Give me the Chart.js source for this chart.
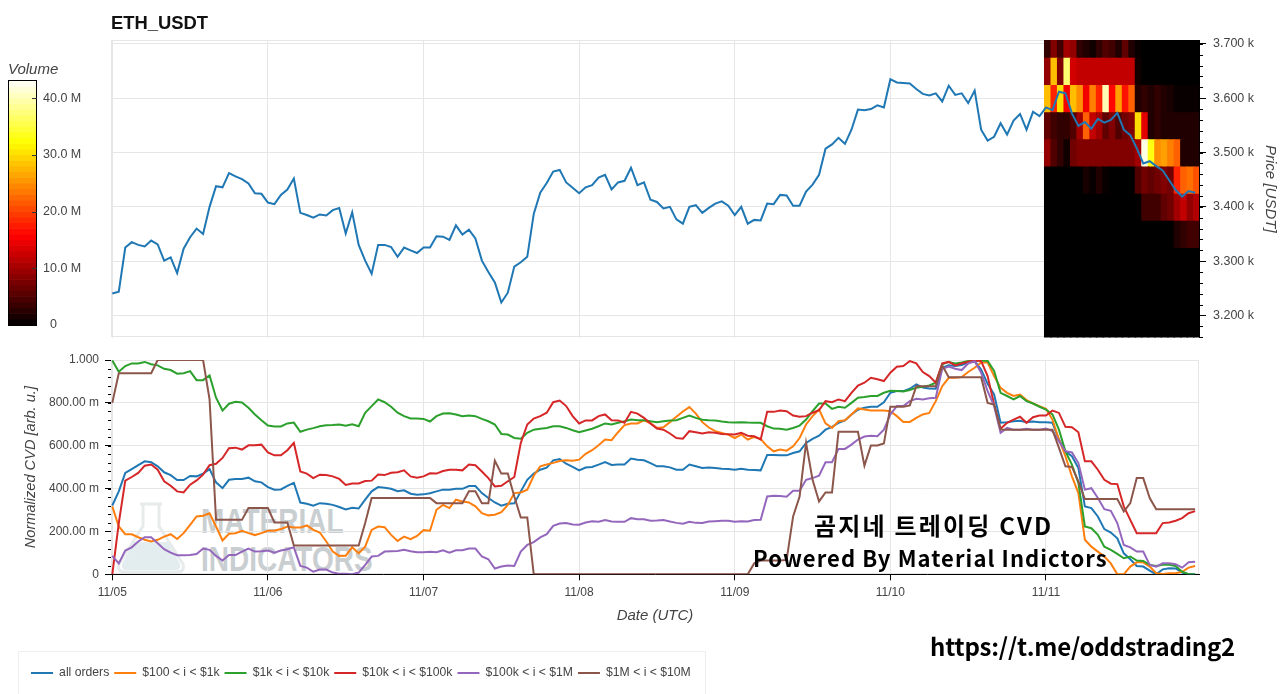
<!DOCTYPE html>
<html><head><meta charset="utf-8">
<script src="https://cdn.jsdelivr.net/npm/chart.js@4/dist/chart.umd.js"></script>
<style>
html,body{margin:0;padding:0;background:#fff;width:1280px;height:694px;overflow:hidden}
canvas{position:absolute;left:0;z-index:1}
.t{position:absolute;white-space:nowrap;z-index:2;color:#000;font-family:"Noto Sans CJK KR","Noto Sans",sans-serif;font-weight:700}
.w{position:absolute;white-space:nowrap;z-index:0;color:#c9ced1;font-family:"Liberation Sans",sans-serif;font-weight:700;font-size:28px;line-height:30px;transform:scale(1,1.25);transform-origin:left top}
#legendBox{position:absolute;left:18px;top:651px;width:688px;height:60px;border:1px solid #eee;box-sizing:border-box;z-index:0}
</style></head><body>
<svg style="position:absolute;left:114px;top:500px;z-index:0" width="80" height="76" viewBox="0 0 80 76">
<path d="M26 4H48M29 4V26L5 64Q3 72 11 72H63Q71 72 69 64L45 26V4" fill="none" stroke="#e7ebec" stroke-width="3"/>
<path d="M20 42H54L66 64Q67 70 62 70H12Q7 70 8 64Z" fill="#e3edf0"/></svg>
<div class="w" style="left:201px;top:503px">MATERIAL</div>
<div class="w" style="left:201px;top:541px">INDICATORS</div>
<div id="legendBox"></div>
<canvas id="priceChart" width="1280" height="352" style="top:0"></canvas>
<canvas id="cvdChart" width="1280" height="349" style="top:345px"></canvas>
<canvas id="barChart" width="110" height="280" style="top:60px"></canvas>
<div class="t" style="left:814px;top:507px;font-size:24px;letter-spacing:2.2px;line-height:36px">곰지네 트레이딩 CVD</div>
<div class="t" style="left:753px;top:540px;font-size:22px;letter-spacing:1.08px;line-height:34px">Powered By Material Indictors</div>
<div class="t" style="left:930px;top:628px;font-size:24px;letter-spacing:-.2px;line-height:36px">https://t.me/oddstrading2</div>
<script>
const dayLabels=['11/05','11/06','11/07','11/08','11/09','11/10','11/11'];
const dayHours=[0,24,48,72,96,120,144];
const priceTickLabels=['3.200 k','3.300 k','3.400 k','3.500 k','3.600 k','3.700 k'];
const cvdTickLabels=['0','200.00 m','400.00 m','600.00 m','800.00 m','1.000'];
const volumeTickLabels=['  0','10.0 M','20.0 M','30.0 M','40.0 M'];
const seriesNames=['all orders','$100 < i < $1k','$1k < i < $10k','$10k < i < $100k','$100k < i < $1M','$1M < i < $10M'];
const price=[3240.5,3244,3325,3335,3330,3327,3338,3331,3301,3307,3278,3323,3344,3360,3350,3400,3438,3436,3462,3456,3451,3443,3425,3424,
3408,3405,3422,3432,3452,3389,3385,3380,3386,3384,3394,3398,3351,3390,3330,3301,3277,3330,3330,3326,3308,3325,3320,3315,
3325,3325,3346,3345,3339,3366,3349,3358,3342,3301,3280,3261,3224,3242,3290,3298,3308,3387,3426,3444,3465,3468,3445,3435,
3425,3436,3440,3454,3459,3432,3445,3448,3472,3440,3445,3413,3409,3397,3400,3377,3369,3400,3403,3389,3398,3406,3410,3402,
3385,3400,3369,3376,3375,3406,3405,3422,3421,3402,3402,3428,3441,3459,3507,3515,3527,3516,3542,3579,3578,3580,3587,3583,
3635,3629,3628,3627,3617,3608,3605,3609,3594,3623,3606,3609,3591,3614,3542,3522,3529,3554,3533,3559,3571,3542,3575,3567,
3583,3578,3612,3609,3572,3549,3556,3544,3562,3555,3560,3573,3542,3532,3508,3480,3484,3475,3467,3449,3431,3419,3429,3426];
const allOrders=[.321,.387,.473,.491,.509,.527,.523,.504,.476,.463,.440,.440,.459,.457,.470,.491,.429,.402,.441,.445,.445,.451,.434,.429,
.407,.395,.396,.413,.427,.335,.329,.320,.332,.329,.324,.314,.303,.310,.307,.348,.387,.407,.404,.399,.388,.392,.376,.371,
.373,.378,.387,.395,.395,.399,.399,.412,.412,.379,.356,.335,.320,.329,.331,.387,.441,.470,.488,.498,.532,.538,.516,.501,
.485,.498,.501,.512,.524,.510,.512,.512,.540,.535,.532,.519,.504,.504,.499,.488,.488,.512,.504,.496,.498,.496,.493,.491,
.488,.493,.488,.487,.485,.557,.557,.555,.555,.566,.574,.613,.632,.647,.675,.688,.707,.718,.746,.768,.777,.782,.782,.803,
.847,.855,.855,.866,.886,.872,.867,.866,.964,.975,.972,.977,.988,.995,.956,.889,.839,.707,.710,.714,.716,.710,.713,.710,
.710,.707,.629,.574,.551,.496,.317,.309,.270,.211,.195,.168,.098,.070,.039,.036,.017,0,.023,.028,.027,.008,0,0];
const orders100to1k=[.317,.223,.187,.187,.173,.161,.153,.161,.176,.187,.165,.192,.231,.270,.273,.285,.223,.158,.189,.192,.203,.192,.183,.192,
.203,.203,.211,.223,.218,.218,.228,.207,.195,.153,.106,.086,.087,.126,.098,.129,.207,.223,.220,.184,.156,.176,.164,.179,
.206,.203,.301,.324,.309,.348,.340,.335,.317,.285,.275,.278,.290,.324,.379,.382,.395,.460,.504,.512,.520,.529,.532,.530,
.535,.562,.579,.602,.629,.626,.663,.696,.704,.704,.718,.705,.683,.686,.710,.735,.760,.780,.750,.710,.685,.668,.660,.652,
.636,.652,.629,.641,.632,.597,.574,.582,.577,.597,.636,.699,.738,.769,.704,.683,.714,.719,.746,.774,.769,.764,.764,.764,
.761,.738,.711,.711,.730,.746,.753,.808,.878,.917,.917,.920,.944,.964,.988,.988,.925,.870,.847,.832,.839,.813,.797,.785,
.772,.722,.629,.551,.457,.379,.161,.129,.106,.083,.051,0,0,.036,.056,.056,.036,.005,.002,.005,.005,.012,.031,.039];
const orders1kto10k=[.998,.945,.972,.984,.984,.991,.980,.975,.959,.953,.936,.938,.948,.906,.906,.928,.824,.764,.796,.805,.802,.777,.746,.719,
.694,.690,.690,.704,.708,.665,.675,.682,.691,.696,.697,.699,.693,.700,.691,.754,.785,.816,.803,.782,.754,.738,.727,.727,
.725,.713,.738,.750,.752,.746,.738,.741,.738,.725,.714,.699,.655,.652,.636,.633,.660,.675,.679,.683,.691,.691,.683,.672,
.663,.671,.679,.691,.704,.699,.707,.714,.722,.719,.719,.714,.710,.714,.718,.719,.730,.741,.730,.721,.719,.718,.713,.710,
.708,.710,.708,.707,.707,.691,.680,.679,.675,.683,.694,.722,.761,.797,.797,.772,.782,.777,.800,.824,.827,.832,.832,.847,
.856,.855,.853,.860,.871,.875,.881,.894,.980,.991,.984,.988,.995,.998,.998,.995,.949,.847,.832,.816,.832,.808,.797,.782,
.769,.746,.675,.574,.512,.426,.223,.215,.184,.129,.114,.095,.075,.083,.064,.062,.044,.039,.044,.044,.039,.012,0,0];
const orders10kto100k=[0,.239,.437,.454,.473,.507,.512,.488,.434,.413,.387,.382,.418,.438,.465,.509,.516,.543,.588,.591,.582,.602,.602,.605,
.569,.555,.555,.579,.613,.480,.470,.449,.465,.463,.457,.445,.417,.424,.424,.435,.437,.466,.463,.474,.476,.485,.457,.451,
.457,.471,.470,.482,.488,.488,.485,.512,.509,.480,.449,.410,.413,.434,.454,.613,.699,.727,.738,.754,.803,.811,.785,.738,
.704,.718,.718,.738,.746,.719,.718,.707,.758,.750,.730,.704,.680,.675,.657,.636,.633,.668,.663,.657,.663,.660,.655,.654,
.652,.660,.647,.644,.629,.758,.758,.764,.761,.741,.735,.738,.754,.766,.808,.803,.816,.808,.847,.881,.894,.917,.910,.902,
.941,.969,.972,.995,.984,.944,.925,.894,.984,.991,.975,.984,.992,.998,.995,.925,.792,.679,.707,.722,.735,.707,.733,.741,
.741,.764,.753,.688,.686,.663,.527,.527,.488,.441,.423,.421,.317,.254,.192,.192,.192,.192,.239,.242,.250,.262,.285,.295];
const orders100kto1M=[.086,.051,.111,.126,.153,.173,.173,.145,.117,.101,.089,.089,.090,.095,.120,.114,.086,.064,.090,.090,.106,.120,.106,.108,
.111,.101,.111,.117,.126,.039,.031,.012,.022,.022,.008,.003,.002,0,.008,.044,.083,.086,.106,.108,.109,.115,.108,.103,
.103,.105,.103,.112,.101,.112,.112,.120,.120,.083,.070,.027,.036,.041,.039,.106,.137,.150,.172,.187,.226,.237,.239,.232,
.231,.242,.248,.245,.253,.246,.245,.245,.262,.257,.257,.250,.251,.253,.246,.240,.236,.245,.240,.239,.246,.248,.250,.250,
.245,.248,.246,.253,.254,.363,.367,.365,.362,.390,.390,.441,.449,.460,.523,.523,.585,.585,.605,.629,.643,.647,.644,.675,
.746,.785,.785,.808,.819,.816,.821,.824,.959,.969,.959,.953,.984,.994,.941,.855,.785,.660,.683,.675,.675,.679,.675,.675,
.680,.668,.621,.574,.569,.519,.395,.402,.356,.304,.296,.239,.137,.126,.106,.106,.044,.036,.051,.051,.047,.031,.056,.058];
const orders1Mto10M=[.800,.938,.938,.938,.938,.938,.938,1,1,1,1,1,1,1,1,.816,.254,.254,.254,.254,.254,.309,.309,.309,
.309,.242,.242,.242,.134,.134,.134,.134,.134,.134,.134,.134,.134,.134,.134,.239,.356,.356,.356,.356,.356,.356,.356,.356,
.356,.356,.332,.332,.332,.332,.332,.387,.387,.332,.332,.530,.470,.470,.363,.265,.265,0,0,0,0,0,0,0,
0,0,0,0,0,0,0,0,0,0,0,0,0,0,0,0,0,0,0,0,0,0,0,0,
0,0,0,.051,.064,.064,.064,.064,.067,.270,.363,.613,.441,.340,.382,.382,.665,.665,.665,.665,.507,.601,.601,.610,
.782,.782,.782,.788,.878,.878,.878,.878,.975,.920,.920,.920,.920,.920,.920,.800,.792,.675,.674,.674,.674,.674,.674,.674,
.674,.674,.590,.504,.501,.434,.351,.351,.351,.351,.351,.351,.293,.332,.449,.449,.356,.304,.304,.304,.304,.304,.304,.304];
const heatHours=[144.3,145.3,146.3,147.3,148.3,149.3,150.3,151.3,152.3,153.3,154.3,155.3,156.3,157.3,158.3,159.3,160.3,161.3,162.3,163.3,164.3,165.3,166.3,167.3];
const heatBinFloors=[3123,3173,3223,3273,3323,3373,3423,3473,3523,3573,3623,3673];
const vol3123=[0,0,0,0,0,0,0,0,0,0,0,0,0,0,0,0,0,0,0,0,0,0,0,0];
const vol3173=[0,0,0,0,0,0,0,0,0,0,0,0,0,0,0,0,0,0,0,0,0,0,0,0];
const vol3223=[0,0,0,0,0,0,0,0,0,0,0,0,0,0,0,0,0,0,0,0,0,0,0,0];
const vol3273=[0,0,0,0,0,0,0,0,0,0,0,0,0,0,0,0,0,0,0,0,0,0,0,0];
const vol3323=[0,0,0,0,0,0,0,0,0,0,0,0,0,0,0,0,0,0,0,0,2,3,4,4];
const vol3373=[0,0,0,0,0,0,0,0,0,0,0,0,0,0,0,4,4,4,6,7,10,12,9,11];
const vol3423=[0,0,0,0,0,0,1.5,.5,2,.5,0,0,0,0,5,7,6,7,8,7,18,22,23,21];
const vol3473=[9,5,3,1,7,8,8,8,8,8,8,8,8,8,10,42,33,25,26,24,22,2,2,2];
const vol3523=[6,4,3,3,5,10,22,12,10,6,8,5,7,8,30,14,2,3,2,2,2,2,2,2];
const vol3573=[28,18,30,15,28,25,15,24,18,40,16,26,17,22,2,3,2,3,2,1.5,.5,.5,.5,.5];
const vol3623=[9,28,8,37,13,12,12,12,12,12,12,12,12,12,1,0,0,0,0,0,0,0,0,0];
const vol3673=[3,8,4,10,9,3,2,1,3,5,4,2,6,2,.5,0,0,0,0,0,0,0,0,0];
const colorbarLevels=[0,1,2,3,4,5,6,7,8,9,10,11,12,13,14,15,16,17,18,19,20,21,22,23,24,25,26,27,28,29,30,31,32,33,34,35,36,37,38,39,40,41,42,43];

const lineColors=['#1f77b4','#ff7f0e','#2ca02c','#d62728','#9467bd','#8c564b'];
const volMax=43.2;
const FONT='"Liberation Sans",Arial,sans-serif';
const TICK='#444', GRID='#e6e6e6';
function hot(v){const t=v/volMax,c=x=>Math.max(0,Math.min(1,x));
 return `rgb(${Math.round(255*c(t/.365))},${Math.round(255*c((t-.365)/.381))},${Math.round(255*c((t-.746)/.254))})`;}
const heatRows=[vol3123,vol3173,vol3223,vol3273,vol3323,vol3373,vol3423,vol3473,vol3523,vol3573,vol3623,vol3673];
const frame=(color,hook)=>({id:'frame',[hook](c){const a=c.chartArea,x=c.ctx;x.save();x.strokeStyle=color;x.lineWidth=1;
 x.strokeRect(Math.round(a.left)+.5,Math.round(a.top)+.5,Math.round(a.right-a.left)-1,Math.round(a.bottom-a.top)-1);x.restore();}});
const minorTicks=(step,len,dir)=>({id:'minorTicks',afterDraw(c){const s=c.scales.y,x=c.ctx,edge=dir>0?c.chartArea.right:c.chartArea.left;
 x.save();x.strokeStyle='#000';x.lineWidth=1;x.beginPath();
 for(let v=Math.ceil(s.min/step)*step;v<=s.max;v+=step){const p=Math.round(s.getPixelForValue(v))+.5;x.moveTo(edge,p);x.lineTo(edge+dir*len,p);}
 x.stroke();x.restore();}});

new Chart(document.getElementById('priceChart'),{type:'bar',
 data:{datasets:[
  {type:'line',order:0,data:price.map((y,x)=>({x,y})),borderColor:lineColors[0],backgroundColor:lineColors[0],borderWidth:2,pointRadius:0,tension:0},
  ...heatRows.map((row,r)=>({type:'bar',order:1,grouped:false,barPercentage:1,categoryPercentage:1,borderWidth:0,inflateAmount:.7,
    data:row.map((v,j)=>({x:heatHours[j],y:[heatBinFloors[r],heatBinFloors[r]+50]})),backgroundColor:row.map(hot)}))
 ]},
 options:{responsive:false,animation:false,layout:{padding:{left:111,top:0,bottom:2,right:0}},
  plugins:{legend:{display:false},tooltip:{enabled:false},
   title:{display:true,text:'ETH_USDT',align:'start',color:'#111',font:{family:FONT,size:18.4,weight:'bold'},padding:{top:13,bottom:5}}},
  scales:{
   x:{type:'linear',offset:false,min:-.2,max:167.6,grid:{offset:false,color:GRID,drawTicks:false},border:{display:false},
      afterBuildTicks(s){s.ticks=dayHours.map(value=>({value}))},
      ticks:{display:false,autoSkip:false},afterFit(s){s.height=0}},
   y:{position:'right',min:3159.5,max:3707,beginAtZero:false,grid:{color:GRID,tickColor:'#000',tickLength:7},border:{color:'#000'},
      ticks:{stepSize:100,includeBounds:false,padding:7,color:TICK,font:{family:FONT,size:12.5},callback:v=>priceTickLabels[Math.round((v-3200)/100)]},
      title:{display:true,text:'Price [USDT]',color:TICK,font:{family:FONT,size:15,style:'italic'},padding:{top:1,bottom:0}},afterFit(s){s.width=81}}
  }},
 plugins:[frame('#e6e6e6','beforeDatasetsDraw'),minorTicks(20,4,1)]
});

new Chart(document.getElementById('cvdChart'),{type:'line',
 data:{datasets:[allOrders,orders100to1k,orders1kto10k,orders10kto100k,orders100kto1M,orders1Mto10M].map((s,i)=>({
   label:seriesNames[i],order:5-i,data:s.map((y,x)=>({x,y})),borderColor:lineColors[i],backgroundColor:lineColors[i],borderWidth:2,pointRadius:0,tension:0}))},
 options:{responsive:false,animation:false,layout:{padding:{left:26,top:15,bottom:5,right:81}},
  plugins:{tooltip:{enabled:false},
   legend:{position:'bottom',align:'start',labels:{usePointStyle:true,pointStyle:'line',pointStyleWidth:22,padding:5,color:TICK,font:{family:FONT,size:12.2},sort:(a,b)=>a.datasetIndex-b.datasetIndex}}},
  scales:{
   x:{type:'linear',min:-.2,max:167.6,grid:{color:GRID,tickColor:'#000',tickLength:6},border:{color:'#000'},
      afterBuildTicks(s){s.ticks=dayHours.map(value=>({value}))},
      ticks:{autoSkip:false,maxRotation:0,padding:5,color:TICK,font:{family:FONT,size:12},callback:(v,i)=>dayLabels[i]},
      title:{display:true,text:'Date (UTC)',color:TICK,font:{family:FONT,size:15,style:'italic'},padding:{top:0,bottom:37}},afterFit(s){s.height=87.5}},
   y:{min:0,max:1,grid:{color:c=>c.tick.value===0?'transparent':GRID,tickColor:'#000',tickLength:6},border:{color:'#000'},
      ticks:{stepSize:.2,padding:6,color:TICK,font:{family:FONT,size:12},callback:v=>cvdTickLabels[Math.round(v*5)]},
      title:{display:true,text:'Normalized CVD [arb. u.]',color:TICK,font:{family:FONT,size:14.6,style:'italic'},padding:{top:-4,bottom:0}},afterFit(s){s.width=85}}
  }},
 plugins:[frame('#e6e6e6','beforeDatasetsDraw'),minorTicks(.04,3,-1)]
});

new Chart(document.getElementById('barChart'),{type:'bar',
 data:{labels:['volume'],datasets:[{grouped:false,barPercentage:1,categoryPercentage:1,borderWidth:0,
   data:colorbarLevels.map(v=>({x:'volume',y:[v,v+1]})),backgroundColor:colorbarLevels.map(v=>hot(v+.5))}]},
 options:{responsive:false,animation:false,layout:{padding:{left:8,top:0,bottom:14,right:0}},
  plugins:{legend:{display:false},tooltip:{enabled:false},
   title:{display:true,text:'Volume',align:'start',color:TICK,font:{family:FONT,size:15,style:'italic',weight:'normal'},padding:{top:1,bottom:1}}},
  scales:{
   x:{display:false},
   y:{position:'right',min:-.2,max:volMax,beginAtZero:false,grid:{display:false,drawTicks:false},border:{display:false},
      ticks:{stepSize:10,includeBounds:false,padding:6,color:TICK,font:{family:FONT,size:12.5},callback:v=>volumeTickLabels[Math.round(v/10)]},afterFit(s){s.width=73}}
  }},
 plugins:[frame('#000','afterDatasetsDraw'),{id:'innerTicks',afterDraw(c){const s=c.scales.y,x=c.ctx,r=c.chartArea.right;x.save();x.strokeStyle='#333';x.beginPath();
  s.ticks.forEach(t=>{if(t.value>0){const p=Math.round(s.getPixelForValue(t.value))+.5;x.moveTo(r-5,p);x.lineTo(r,p);}});x.stroke();x.restore();}}]
});
</script></body></html>
